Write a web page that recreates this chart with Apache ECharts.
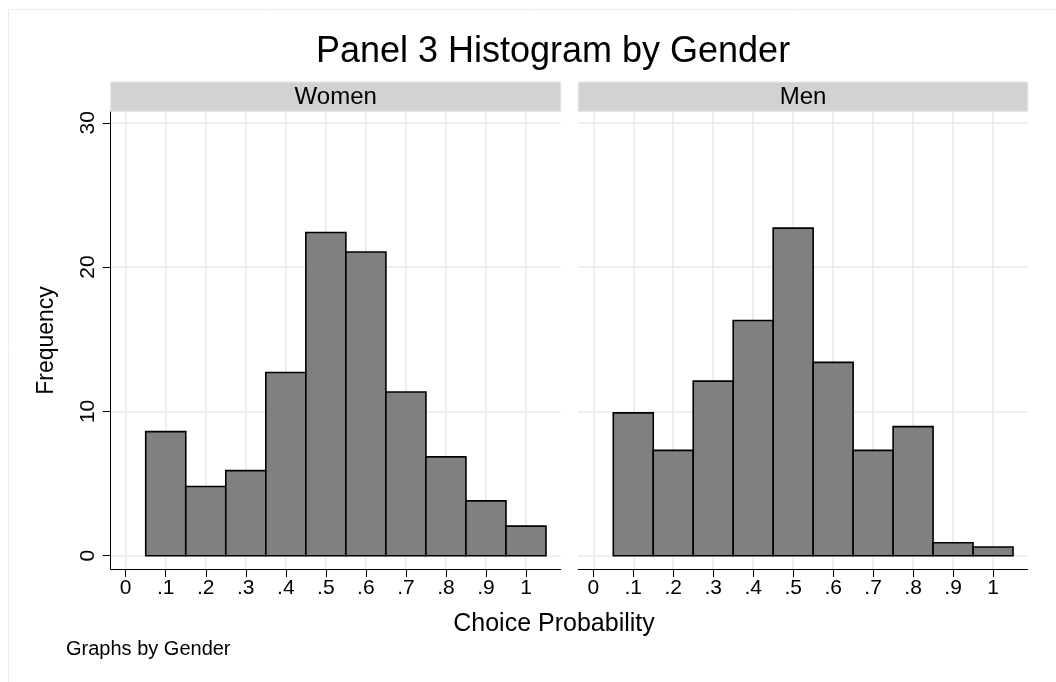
<!DOCTYPE html>
<html>
<head>
<meta charset="utf-8">
<script src="https://cdn.jsdelivr.net/npm/echarts@6/dist/echarts.min.js"></script>
<style>
  html, body { margin: 0; padding: 0; background: #ffffff; }
  #chart { width: 1056px; height: 682px; }
</style>
</head>
<body>
<div id="chart"></div>
<script>
// ---- Data ----
const panels = ['Women', 'Men'];
const binCenters = [0.1, 0.2, 0.3, 0.4, 0.5, 0.6, 0.7, 0.8, 0.9, 1.0];
const binWidth = 0.1;
const women = [8.6, 4.8, 5.9, 12.7, 22.4, 21.05, 11.35, 6.85, 3.8, 2.05];
const men = [9.9, 7.3, 12.1, 16.3, 22.7, 13.4, 7.3, 8.95, 0.9, 0.6];
const xTicks = [0, 0.1, 0.2, 0.3, 0.4, 0.5, 0.6, 0.7, 0.8, 0.9, 1];
const xTickLabels = ['0', '.1', '.2', '.3', '.4', '.5', '.6', '.7', '.8', '.9', '1'];
const yTicks = [0, 10, 20, 30];
const yTickLabels = ['0', '10', '20', '30'];

const FONT = '"Liberation Sans", Arial, Helvetica, sans-serif';
const xMin = -0.0375, xMax = 1.0867;
const yMin = -0.92, yMax = 30.75;

function binData(values) {
  return values.map((v, i) => [binCenters[i] - binWidth / 2, binCenters[i] + binWidth / 2, v]);
}
const seriesValues = [women, men];

const gridBoxes = [
  { left: 110.7, top: 112, width: 450, height: 457 },
  { left: 578.3, top: 112, width: 449.4, height: 457 }
];

const chart = echarts.init(document.getElementById('chart'), null, { renderer: 'canvas' });

const splitLineStyle = { show: true, lineStyle: { color: '#e8e8e8', width: 1.5 } };

const xAxes = panels.map((p, i) => ({
  type: 'value', gridIndex: i, min: xMin, max: xMax,
  axisLine: { show: true, onZero: false, lineStyle: { color: '#000', width: 1 } },
  axisTick: { show: true, length: 8, customValues: xTicks, lineStyle: { color: '#000', width: 1 } },
  axisLabel: {
    show: true, customValues: xTicks, margin: 9,
    fontFamily: FONT, fontSize: 21, color: '#000',
    formatter: v => { const k = xTicks.findIndex(t => Math.abs(t - v) < 1e-9); return k >= 0 ? xTickLabels[k] : ''; }
  },
  splitLine: splitLineStyle
}));

const yAxes = panels.map((p, i) => ({
  type: 'value', gridIndex: i, min: yMin, max: yMax,
  name: i === 0 ? 'Frequency' : '',
  nameLocation: 'middle', nameRotate: 90, nameGap: 53,
  nameTextStyle: { fontFamily: FONT, fontSize: 23, color: '#000' },
  axisLine: { show: i === 0, onZero: false, lineStyle: { color: '#000', width: 1 } },
  axisTick: { show: i === 0, length: 8, customValues: yTicks, lineStyle: { color: '#000', width: 1 } },
  axisLabel: {
    show: i === 0, customValues: yTicks, rotate: 90, margin: 12,
    fontFamily: FONT, fontSize: 21, color: '#000',
    formatter: v => { const k = yTicks.findIndex(t => Math.abs(t - v) < 1e-9); return k >= 0 ? yTickLabels[k] : ''; }
  },
  splitLine: splitLineStyle
}));

const series = panels.map((p, i) => ({
  type: 'custom', name: p, xAxisIndex: i, yAxisIndex: i,
  data: binData(seriesValues[i]),
  encode: { x: [0, 1], y: 2 },
  renderItem: (params, api) => {
    const p0 = api.coord([api.value(0), api.value(2)]);
    const p1 = api.coord([api.value(1), 0]);
    return {
      type: 'rect',
      shape: { x: p0[0], y: p0[1], width: p1[0] - p0[0], height: p1[1] - p0[1] },
      style: { fill: '#808080', stroke: '#000', lineWidth: 1.6 }
    };
  }
}));

const stripGraphics = panels.map((p, i) => ({
  type: 'group',
  children: [
    { type: 'rect', shape: { x: gridBoxes[i].left, y: 82, width: gridBoxes[i].width, height: 29.3 },
      style: { fill: '#d2d2d2', stroke: '#dce6ee', lineWidth: 1 } },
    { type: 'text', x: gridBoxes[i].left + gridBoxes[i].width / 2, y: 97,
      style: { text: p, fontFamily: FONT, fontSize: 24, fill: '#000', align: 'center', verticalAlign: 'middle' } }
  ]
}));

chart.setOption({
  backgroundColor: '#ffffff',
  animation: false,
  title: [
    { text: 'Panel 3 Histogram by Gender', left: 548, top: 29, textAlign: 'center',
      textStyle: { fontFamily: FONT, fontSize: 36, fontWeight: 'normal', color: '#000' } },
    { text: 'Choice Probability', left: 549, top: 607, textAlign: 'center',
      textStyle: { fontFamily: FONT, fontSize: 25, fontWeight: 'normal', color: '#000' } },
    { text: 'Graphs by Gender', left: 61, top: 634,
      textStyle: { fontFamily: FONT, fontSize: 20, fontWeight: 'normal', color: '#000' } }
  ],
  grid: gridBoxes.map(b => Object.assign({ containLabel: false, outerBoundsMode: 'none' }, b)),
  xAxis: xAxes,
  yAxis: yAxes,
  series: series,
  graphic: [
    { type: 'rect', shape: { x: 8.5, y: 9.5, width: 1100, height: 700 }, silent: true,
      style: { fill: 'none', stroke: '#ececec', lineWidth: 1 } }
  ].concat(stripGraphics)
});
</script>
</body>
</html>
